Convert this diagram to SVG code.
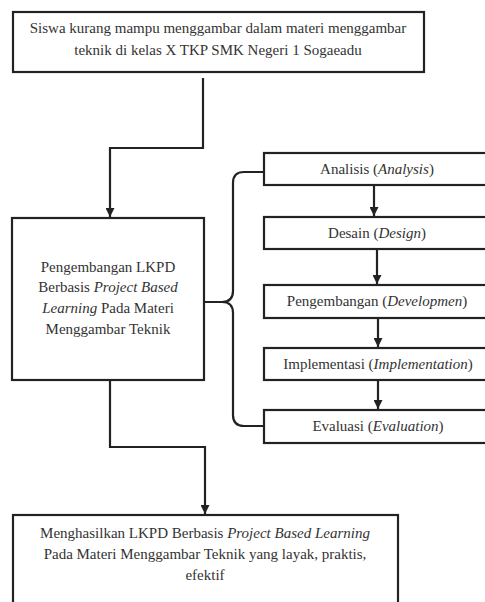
<svg xmlns="http://www.w3.org/2000/svg" width="485" height="602" viewBox="0 0 485 602">
<style>
.box{fill:#fff;stroke:#222;stroke-width:2.2}
.t{font-size:15px;fill:#333;text-anchor:middle}
.i{font-style:italic}
.c{fill:none;stroke:#222;stroke-width:2.2}
</style>
<defs>
<marker id="ah" viewBox="0 0 10 10" refX="10" refY="5" markerWidth="9" markerHeight="9" markerUnits="userSpaceOnUse" orient="auto">
<path d="M0,0 L10,5 L0,10 Z" fill="#222"/>
</marker>
</defs>
<rect width="485" height="602" fill="#fff"/>
<g id="connectors">
<path class="c" d="M203,78 V148 H110 V217" marker-end="url(#ah)"/>
<path class="c" d="M110,381 V447 H205 V514" marker-end="url(#ah)"/>
<path class="c" d="M204,302 H222 Q233,302 233,291 V183 Q233,172 244,172 H264"/>
<path class="c" d="M222,302 Q233,302 233,313 V415 Q233,426 244,426 H264"/>
<path class="c" d="M374,186 V216" marker-end="url(#ah)"/>
<path class="c" d="M377,250 V284" marker-end="url(#ah)"/>
<path class="c" d="M378,319 V347" marker-end="url(#ah)"/>
<path class="c" d="M378,381 V409" marker-end="url(#ah)"/>
</g>
<g font-family="'Liberation Serif', 'DejaVu Serif', serif">
<g id="n_problem">
<rect class="box" x="13" y="12" width="411" height="60"/>
<text class="t" x="218" y="33">Siswa kurang mampu menggambar dalam materi menggambar</text>
<text class="t" x="218" y="55">teknik di kelas X TKP SMK Negeri 1 Sogaeadu</text>
</g>
<g id="n_dev">
<rect class="box" x="12" y="218" width="192" height="162"/>
<text class="t" x="108" y="272">Pengembangan LKPD</text>
<text class="t" x="108" y="292">Berbasis <tspan class="i">Project Based</tspan></text>
<text class="t" x="108" y="313"><tspan class="i">Learning</tspan> Pada Materi</text>
<text class="t" x="108" y="334">Menggambar Teknik</text>
</g>
<g id="n_analisis">
<rect class="box" x="264" y="153" width="230" height="32"/>
<text class="t" x="377" y="174">Analisis (<tspan class="i">Analysis</tspan>)</text>
</g>
<g id="n_desain">
<rect class="box" x="264" y="217" width="230" height="32"/>
<text class="t" x="377" y="238">Desain (<tspan class="i">Design</tspan>)</text>
</g>
<g id="n_pengembangan">
<rect class="box" x="264" y="285" width="230" height="33"/>
<text class="t" x="377" y="306">Pengembangan (<tspan class="i">Developmen</tspan>)</text>
</g>
<g id="n_implementasi">
<rect class="box" x="264" y="348" width="230" height="32"/>
<text class="t" x="378" y="369">Implementasi (<tspan class="i">Implementation</tspan>)</text>
</g>
<g id="n_evaluasi">
<rect class="box" x="264" y="410" width="230" height="33"/>
<text class="t" x="378" y="431">Evaluasi (<tspan class="i">Evaluation</tspan>)</text>
</g>
<g id="n_result">
<rect class="box" x="13" y="515" width="385" height="100"/>
<text class="t" x="205" y="538">Menghasilkan LKPD Berbasis <tspan class="i">Project Based Learning</tspan></text>
<text class="t" x="205" y="559">Pada Materi Menggambar Teknik yang layak, praktis,</text>
<text class="t" x="205" y="580">efektif</text>
</g>
</g>
</svg>
